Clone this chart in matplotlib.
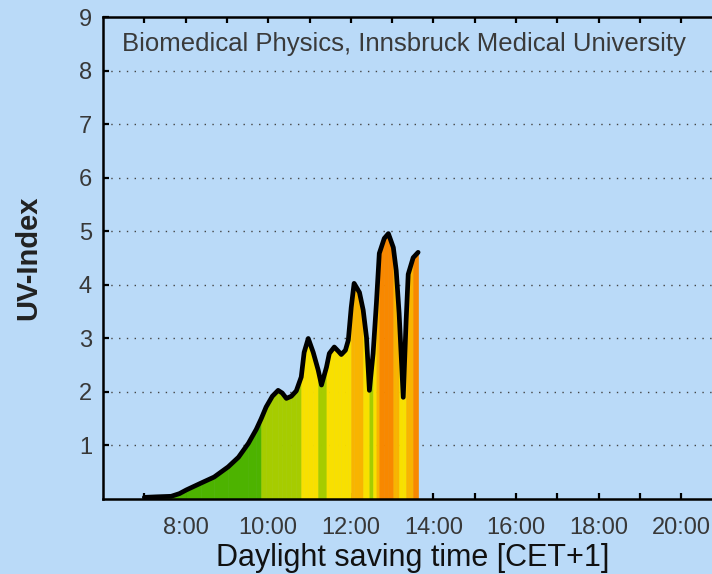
import numpy as np
import matplotlib
matplotlib.use("Agg")
import matplotlib.pyplot as plt

plt.rcParams["font.family"] = ["Liberation Sans", "DejaVu Sans"]

# hours (CET+1) and UV index
hours = [7.00, 7.29, 7.65, 7.85, 8.02, 8.38, 8.69, 9.03, 9.28, 9.52, 9.71, 9.83,
         9.95, 10.10, 10.24, 10.34, 10.44, 10.56, 10.68, 10.80, 10.87, 10.97,
         11.09, 11.21, 11.29, 11.41, 11.48, 11.60, 11.70, 11.77, 11.87, 11.94,
         12.01, 12.08, 12.21, 12.30, 12.38, 12.45, 12.54, 12.62, 12.69, 12.81,
         12.91, 13.03, 13.10, 13.17, 13.27, 13.34, 13.39, 13.51, 13.63]
uv = [0.03, 0.04, 0.05, 0.10, 0.17, 0.30, 0.41, 0.60, 0.78, 1.04, 1.30, 1.50,
      1.72, 1.92, 2.03, 1.98, 1.88, 1.92, 2.02, 2.28, 2.74, 3.00,
      2.74, 2.41, 2.13, 2.46, 2.72, 2.84, 2.76, 2.70, 2.78, 2.97,
      3.58, 4.03, 3.86, 3.53, 3.02, 2.03, 2.72, 3.66, 4.59, 4.87,
      4.96, 4.70, 4.27, 3.47, 1.90, 3.34, 4.20, 4.51, 4.61]

# colour for rounded UV index: <=1, 2, 3, 4, >=5
level_colors = ["#4db300", "#a6cc00", "#f8e000", "#f8b400", "#f88800"]

major_hours = [8, 10, 12, 14, 16, 18, 20]
minor_hours = [7, 9, 11, 13, 15, 17, 19]
y_ticks = [1, 2, 3, 4, 5, 6, 7, 8, 9]

bg = "#badaf8"
fig = plt.figure(figsize=(7.12, 5.74), dpi=100, facecolor=bg)
ax = fig.add_axes([0.1447, 0.1307, 0.870, 0.8389], facecolor=bg)

# coloured area under the curve, one band per sample interval
for i in range(len(hours) - 1):
    mean = (uv[i] + uv[i + 1]) / 2
    level = int(np.floor(mean + 0.5))
    c = level_colors[min(max(level - 1, 0), 4)]
    ax.fill_between(hours[i:i + 2], uv[i:i + 2], 0, color=c, lw=0.4, ec=c, zorder=2)

ax.plot(hours, uv, color="black", lw=3.4, solid_joinstyle="round",
        solid_capstyle="round", zorder=3)

for y in y_ticks[:-1]:
    ax.axhline(y, color="#444444", lw=1.0, ls=(0, (1, 4.6)), zorder=1)

ax.set_xlim(6, 21)
ax.set_ylim(0, 9)
ax.set_xticks(major_hours)
ax.set_xticklabels([f"{h}:00" for h in major_hours])
ax.set_xticks(minor_hours, minor=True)
ax.set_yticks(y_ticks)

for s in ax.spines.values():
    s.set_linewidth(1.8)
ax.tick_params(axis="both", which="both", direction="in", width=1.6, length=4,
               colors="black", labelcolor="#383838", labelsize=17)
ax.tick_params(axis="x", which="both", top=True, pad=13)
ax.tick_params(axis="y", pad=8)

ax.text(0.031, 0.945, "Biomedical Physics, Innsbruck Medical University",
        transform=ax.transAxes, ha="left", va="center", fontsize=18.5,
        color="#3a3a3a")
ax.set_xlabel("Daylight saving time [CET+1]", fontsize=22, color="#111111",
              labelpad=3)
ax.set_ylabel("UV-Index", fontsize=21, fontweight="bold", color="#222222",
              labelpad=26)

fig.savefig("out.png", dpi=100, facecolor=bg)
